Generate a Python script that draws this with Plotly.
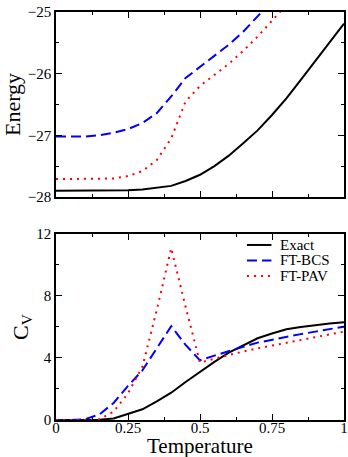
import plotly.graph_objects as go
from plotly.subplots import make_subplots

T = [0.0, 0.05, 0.1, 0.15, 0.2, 0.25, 0.3, 0.35, 0.4, 0.45, 0.5,
     0.55, 0.6, 0.65, 0.7, 0.75, 0.8, 0.85, 0.9, 0.95, 1.0]

E_exact = [-27.9, -27.9, -27.9, -27.9, -27.9, -27.89, -27.88, -27.85, -27.82, -27.74, -27.64,
           -27.5, -27.33, -27.13, -26.92, -26.67, -26.4, -26.1, -25.8, -25.5, -25.19]
E_bcs = [-27.02, -27.02, -27.02, -27.0, -26.96, -26.9, -26.8, -26.64, -26.37, -26.07, -25.89,
         -25.71, -25.53, -25.32, -25.08, -24.82, -24.55, -24.3, -24.05, -23.8, -23.55]
E_pav = [-27.71, -27.71, -27.71, -27.71, -27.7, -27.66, -27.58, -27.4, -27.05, -26.45, -26.2,
         -26.02, -25.84, -25.63, -25.4, -25.14, -24.88, -24.6, -24.35, -24.1, -23.85]

Cv_exact = [0, 0, 0, 0.01, 0.1, 0.4, 0.69, 1.2, 1.76, 2.45, 3.12,
            3.75, 4.34, 4.83, 5.27, 5.58, 5.85, 6.0, 6.13, 6.22, 6.3]
Cv_bcs = [0, 0, 0.05, 0.35, 1.1, 2.2, 3.2, 4.6, 6.05, 4.84, 3.85,
          4.15, 4.45, 4.72, 4.99, 5.18, 5.37, 5.54, 5.7, 5.86, 6.02]
Cv_pav = [0, 0, 0, 0.05, 0.54, 1.72, 3.44, 7.1, 11.08, 7.3, 3.7,
          3.95, 4.2, 4.42, 4.62, 4.8, 4.95, 5.15, 5.33, 5.52, 5.7]

names = ["Exact", "FT-BCS", "FT-PAV"]
colors = ["black", "#0000ff", "#ff0000"]
dashes = ["solid", "10px,5px", "2px,5px"]

FONT = "Liberation Serif"

fig = make_subplots(rows=2, cols=1)

for i, (e, c) in enumerate(zip([E_exact, E_bcs, E_pav], [Cv_exact, Cv_bcs, Cv_pav])):
    fig.add_trace(go.Scatter(x=T, y=e, mode="lines", name=names[i], showlegend=False,
                             line=dict(color=colors[i], width=2, dash=dashes[i])), row=1, col=1)
    fig.add_trace(go.Scatter(x=T, y=c, mode="lines", name=names[i], showlegend=False,
                             line=dict(color=colors[i], width=2, dash=dashes[i])), row=2, col=1)

axcommon = dict(showline=True, linecolor="black", linewidth=1.5, mirror="allticks",
                ticks="inside", ticklen=6, tickcolor="black", showgrid=False, zeroline=False,
                automargin=False,
                tickfont=dict(family=FONT, size=15, color="black"))

fig.update_xaxes(range=[0, 1], tick0=0, dtick=0.25,
                 minor=dict(ticks="inside", ticklen=3, dtick=0.125, tickcolor="black"),
                 **axcommon)
fig.update_xaxes(showticklabels=False, row=1, col=1)
fig.update_xaxes(tickvals=[0, 0.25, 0.5, 0.75, 1], ticktext=["0", "0.25", "0.5", "0.75", "1"],
                 ticklabelstandoff=-7, row=2, col=1)

fig.update_yaxes(range=[-28, -25], tickvals=[-28, -27, -26, -25],
                 minor=dict(ticks="inside", ticklen=3, dtick=0.5, tickcolor="black"),
                 title=dict(text="Energy", font=dict(family=FONT, size=22, color="black"), standoff=2),
                 row=1, col=1, **axcommon)
fig.update_yaxes(range=[0, 12], tickvals=[0, 4, 8, 12],
                 minor=dict(ticks="inside", ticklen=3, dtick=2, tickcolor="black"),
                 title=dict(text="C<sub>V</sub>", font=dict(family=FONT, size=22, color="black"), standoff=2),
                 row=2, col=1, **axcommon)

# x-axis title
fig.add_annotation(text="Temperature", xref="paper", yref="paper", x=0.5, y=-0.064,
                   xanchor="center", yanchor="middle", showarrow=False,
                   font=dict(family=FONT, size=21, color="black"))

# legend drawn inside the lower panel
leg_y = [0.429, 0.391, 0.353]
for i in range(3):
    fig.add_shape(type="line", xref="paper", yref="paper", x0=0.663, x1=0.748,
                  y0=leg_y[i], y1=leg_y[i], line=dict(color=colors[i], width=2, dash=dashes[i]))
    fig.add_annotation(text=names[i], xref="paper", yref="paper", x=0.772, y=leg_y[i],
                       xanchor="left", yanchor="middle", showarrow=False,
                       font=dict(family=FONT, size=15, color="black"))

fig.update_layout(
    width=348, height=457,
    margin=dict(l=56, r=4, t=12, b=37),
    paper_bgcolor="white", plot_bgcolor="white",
    yaxis=dict(domain=[0.5466, 1.0]),
    yaxis2=dict(domain=[0.0, 0.456]),
    showlegend=False,
    font=dict(family=FONT, color="black"),
)

fig.write_html("out.html")
